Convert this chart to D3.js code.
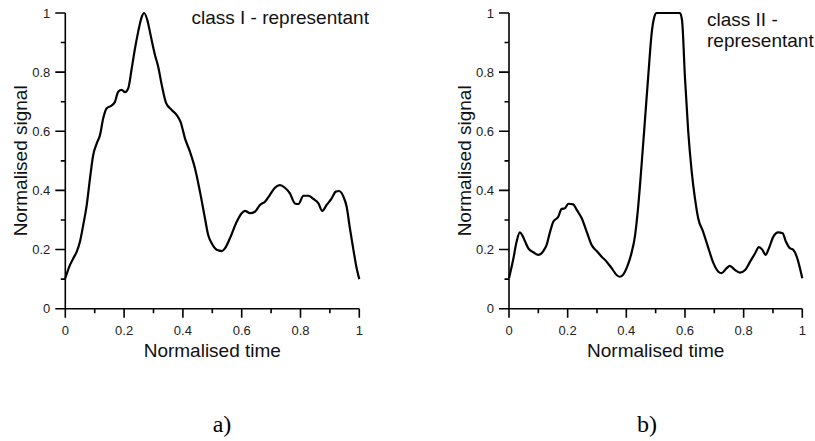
<!DOCTYPE html>
<html><head><meta charset="utf-8">
<script src="https://cdn.jsdelivr.net/npm/d3@7"></script>
<style>
html,body{margin:0;padding:0;background:#fff;}
svg{display:block;}
</style></head>
<body>
<svg id="chart" width="815" height="441"></svg>
<script>
// ---- data ----
const timeA = [0,0.016,0.027,0.039,0.05,0.061,0.073,0.084,0.095,0.107,0.118,0.129,0.141,0.158,0.169,0.18,0.192,0.203,0.214,0.226,0.237,0.248,0.26,0.268,0.279,0.29,0.305,0.316,0.328,0.343,0.362,0.379,0.392,0.407,0.424,0.441,0.458,0.475,0.486,0.498,0.515,0.532,0.543,0.56,0.583,0.6,0.611,0.628,0.645,0.662,0.679,0.696,0.713,0.73,0.747,0.764,0.781,0.793,0.81,0.827,0.844,0.861,0.874,0.889,0.906,0.92,0.931,0.946,0.957,0.968,0.98,0.991,1.0];
const signalA = [0.103,0.148,0.17,0.193,0.227,0.283,0.351,0.441,0.52,0.559,0.587,0.644,0.678,0.687,0.70,0.734,0.74,0.732,0.745,0.813,0.88,0.937,0.987,1.0,0.976,0.926,0.858,0.818,0.757,0.695,0.672,0.655,0.632,0.576,0.531,0.475,0.396,0.306,0.249,0.221,0.199,0.195,0.204,0.238,0.294,0.323,0.331,0.323,0.328,0.351,0.362,0.385,0.409,0.418,0.409,0.39,0.356,0.354,0.382,0.382,0.371,0.356,0.331,0.351,0.373,0.396,0.398,0.379,0.345,0.272,0.199,0.137,0.1];
const timeB = [0,0.015,0.026,0.037,0.045,0.055,0.066,0.083,0.1,0.117,0.128,0.14,0.151,0.168,0.179,0.191,0.202,0.219,0.231,0.248,0.265,0.282,0.299,0.316,0.333,0.35,0.367,0.378,0.39,0.401,0.416,0.43,0.441,0.452,0.464,0.475,0.487,0.495,0.503,0.52,0.54,0.56,0.583,0.59,0.6,0.611,0.623,0.634,0.645,0.662,0.68,0.697,0.714,0.725,0.742,0.753,0.77,0.787,0.805,0.822,0.839,0.852,0.864,0.875,0.886,0.901,0.918,0.933,0.944,0.956,0.969,0.981,0.992,1.0];
const signalB = [0.103,0.17,0.227,0.258,0.249,0.227,0.204,0.191,0.182,0.195,0.215,0.26,0.294,0.311,0.337,0.34,0.355,0.353,0.334,0.306,0.26,0.215,0.195,0.176,0.159,0.137,0.114,0.108,0.116,0.137,0.182,0.249,0.351,0.486,0.644,0.79,0.937,0.985,1.0,1.0,1.0,1.0,1.0,0.975,0.78,0.6,0.463,0.373,0.306,0.26,0.204,0.154,0.125,0.12,0.137,0.145,0.131,0.122,0.131,0.159,0.187,0.208,0.199,0.182,0.204,0.243,0.258,0.255,0.227,0.206,0.199,0.176,0.137,0.103];
const majorTicks = [0,0.2,0.4,0.6,0.8,1];
const majorTickLabels = ["0","0.2","0.4","0.6","0.8","1"];
const minorTicks = [0.1,0.3,0.5,0.7,0.9];
const panelTitles = [["class I - representant"],["class II -","representant"]];
const panelLetters = ["a)","b)"];
const xTitle = "Normalised time";
const yTitle = "Normalised signal";

// ---- drawing ----
const SANS = "Arial, 'Liberation Sans', sans-serif";
const SERIF = "'Liberation Serif', 'Times New Roman', serif";
const svg = d3.select("#chart");
const panels = [
  {left:65.3, right:359.3, t:timeA, s:signalA, titleX:191.5, titleY:[24], letterX:222},
  {left:509, right:802.3, t:timeB, s:signalB, titleX:707, titleY:[26,47], letterX:647}
];
const plotTop = 13, plotBottom = 308.7;

panels.forEach((p,i)=>{
  const x = d3.scaleLinear().domain([0,1]).range([p.left,p.right]);
  const y = d3.scaleLinear().domain([0,1]).range([plotBottom,plotTop]);
  const g = svg.append("g");

  // axes + ticks as one path
  const pa = d3.path();
  pa.moveTo(x(0), y(1)); pa.lineTo(x(0), y(0)); pa.lineTo(x(1), y(0));
  majorTicks.forEach(v=>{ pa.moveTo(x(v), y(0)); pa.lineTo(x(v), y(0)+9); });
  minorTicks.forEach(v=>{ pa.moveTo(x(v), y(0)); pa.lineTo(x(v), y(0)+4.5); });
  majorTicks.forEach(v=>{ pa.moveTo(x(0), y(v)); pa.lineTo(x(0)-10, y(v)); });
  minorTicks.forEach(v=>{ pa.moveTo(x(0), y(v)); pa.lineTo(x(0)-4.5, y(v)); });
  g.append("path").attr("d", pa.toString())
    .attr("fill","none").attr("stroke","#000").attr("stroke-width",1.6);

  // tick labels
  g.selectAll(null).data(majorTicks).join("text")
    .attr("x",d=>x(d)).attr("y",y(0)+26.5).attr("text-anchor","middle")
    .style("font-family",SANS).style("font-size","13px").style("fill","#222")
    .text((d,k)=>majorTickLabels[k]);
  g.selectAll(null).data(majorTicks).join("text")
    .attr("x",x(0)-15).attr("y",d=>y(d)).attr("dy","0.35em").attr("text-anchor","end")
    .style("font-family",SANS).style("font-size","13px").style("fill","#222")
    .text((d,k)=>majorTickLabels[k]);

  // curve
  const line = d3.line().x((d,k)=>x(p.t[k])).y(d=>y(d)).curve(d3.curveMonotoneX);
  g.append("path").datum(p.s).attr("d",line)
    .attr("fill","none").attr("stroke","#000").attr("stroke-width",2.2).attr("stroke-linejoin","round");

  // axis titles
  g.append("text").attr("x",(p.left+p.right)/2).attr("y",356.5).attr("text-anchor","middle")
    .style("font-family",SANS).style("font-size","19px").style("fill","#111").text(xTitle);
  g.append("text").attr("transform",`translate(${p.left-38.5},${(plotTop+plotBottom)/2}) rotate(-90)`)
    .attr("text-anchor","middle").style("font-family",SANS).style("font-size","19px").style("fill","#111").text(yTitle);

  // panel title
  panelTitles[i].forEach((t,k)=>{
    g.append("text").attr("x",p.titleX).attr("y",p.titleY[k])
      .style("font-family",SANS).style("font-size","19px").style("fill","#111").text(t);
  });
  // letter
  g.append("text").attr("x",p.letterX).attr("y",432).attr("text-anchor","middle")
    .style("font-family",SERIF).style("font-size","24px").style("fill","#000").text(panelLetters[i]);
});
</script>
</body></html>
